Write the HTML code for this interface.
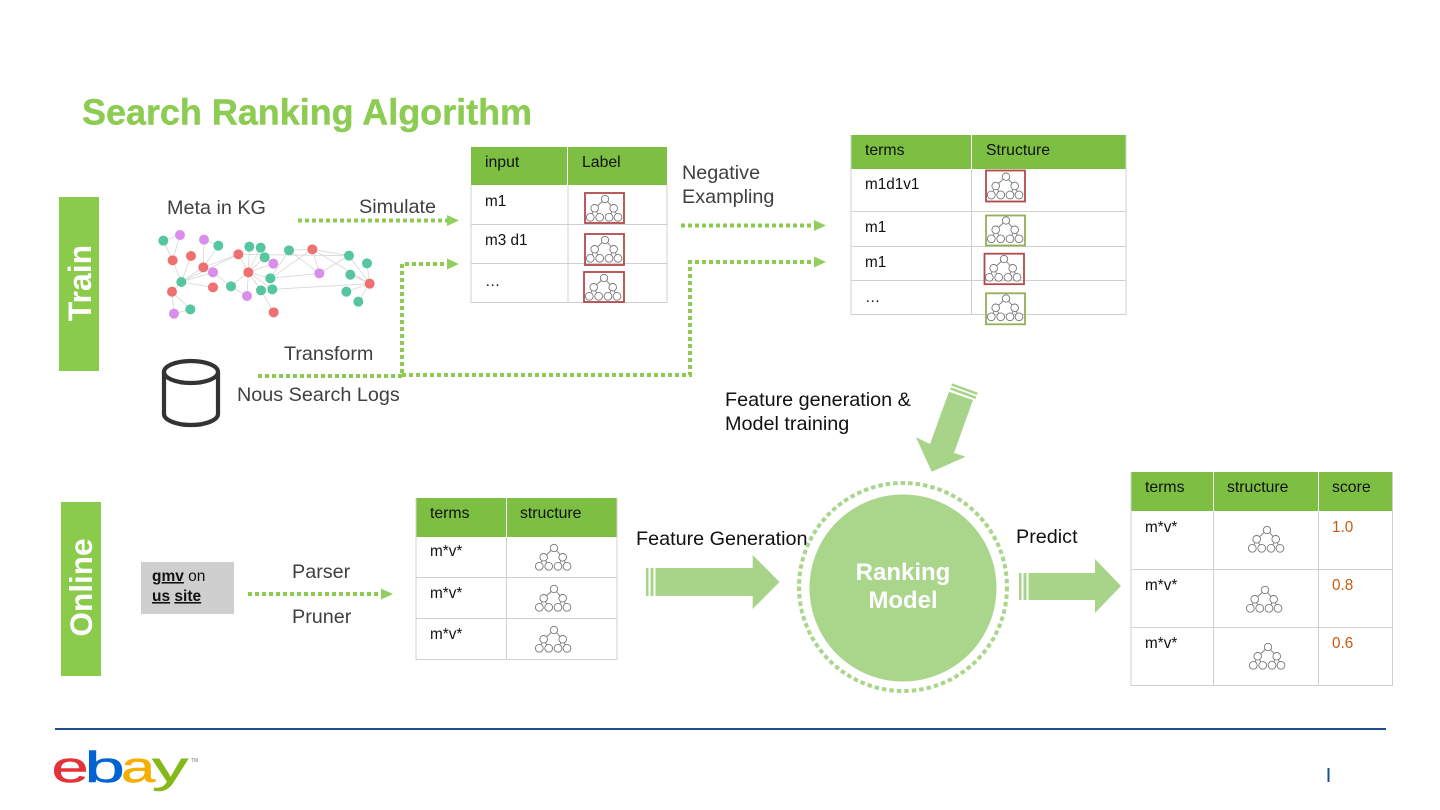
<!DOCTYPE html>
<html>
<head>
<meta charset="utf-8">
<style>
html,body{margin:0;padding:0;background:#fff;width:1440px;height:810px;overflow:hidden}
svg{display:block;font-family:"Liberation Sans",sans-serif}
.l{font-size:19.8px;fill:#404040}
.t{font-size:15.300px;fill:#111}
.h{font-size:15.800px;fill:#111}
.d{fill:none;stroke:#8ccb50;stroke-width:4;stroke-dasharray:4 3}
.g{fill:none;stroke:#d0d0d0;stroke-width:1}
.hd{fill:#7cbf42}
.r{fill:none;stroke:#b04a4a;stroke-width:1.8}
.n{fill:none;stroke:#93ae5a;stroke-width:1.8}
.e line{stroke:#d8d8d8;stroke-width:2.5}
</style>
</head>
<body>
<svg width="1440" height="810" viewBox="0 0 1440 810" xmlns="http://www.w3.org/2000/svg">
<defs>
<g id="tree" fill="#fff" stroke="#777" stroke-width="0.9">
<path d="M0 0L-10.3 9.3M0 0L8.7 9.3M-10.3 9.3L-14.7 18.3M-10.3 9.3L-5.3 18.3M8.7 9.3L4 18.3M8.7 9.3L13 18.3" fill="none"/>
<circle cx="0" cy="0" r="3.7"/>
<circle cx="-10.3" cy="9.3" r="3.8"/>
<circle cx="8.7" cy="9.3" r="3.8"/>
<circle cx="-14.7" cy="18.3" r="3.9"/>
<circle cx="-5.3" cy="18.3" r="3.9"/>
<circle cx="4" cy="18.3" r="3.9"/>
<circle cx="13" cy="18.3" r="3.9"/>
</g>
</defs>

<text x="82" y="124.500" font-size="36" font-weight="bold" fill="#8ccc52" stroke="#8ccc52" stroke-width="0.4" textLength="450" lengthAdjust="spacingAndGlyphs">Search Ranking Algorithm</text>

<!-- side labels -->
<rect x="59" y="197" width="40" height="174" fill="#8bcb4c"/>
<text transform="translate(91,283) rotate(-90)" text-anchor="middle" font-size="32" font-weight="bold" fill="#fff">Train</text>
<rect x="61" y="502" width="40" height="174" fill="#8bcb4c"/>
<text transform="translate(92,587.500) rotate(-90)" text-anchor="middle" font-size="31.500" font-weight="bold" fill="#fff">Online</text>

<!-- KG graph -->
<g transform="translate(150,220) scale(.33333)">
<g class="e">
<line x1="40" y1="62" x2="90" y2="45"/><line x1="90" y1="45" x2="68" y2="121"/><line x1="40" y1="62" x2="68" y2="121"/>
<line x1="68" y1="121" x2="94" y2="186"/><line x1="123" y1="108" x2="94" y2="186"/><line x1="162" y1="59" x2="160" y2="142"/>
<line x1="205" y1="77" x2="160" y2="142"/><line x1="162" y1="59" x2="205" y2="77"/><line x1="160" y1="142" x2="94" y2="186"/>
<line x1="189" y1="157" x2="94" y2="186"/><line x1="189" y1="202" x2="94" y2="186"/><line x1="265" y1="103" x2="94" y2="186"/>
<line x1="265" y1="103" x2="160" y2="142"/><line x1="94" y1="186" x2="66" y2="215"/><line x1="66" y1="215" x2="72" y2="281"/>
<line x1="66" y1="215" x2="121" y2="268"/><line x1="72" y1="281" x2="121" y2="268"/><line x1="189" y1="157" x2="243" y2="199"/>
<line x1="243" y1="199" x2="295" y2="157"/><line x1="295" y1="157" x2="298" y2="80"/><line x1="295" y1="157" x2="332" y2="83"/>
<line x1="295" y1="157" x2="344" y2="112"/><line x1="295" y1="157" x2="370" y2="131"/><line x1="295" y1="157" x2="361" y2="175"/>
<line x1="295" y1="157" x2="333" y2="211"/><line x1="295" y1="157" x2="367" y2="208"/><line x1="295" y1="157" x2="291" y2="228"/>
<line x1="243" y1="199" x2="291" y2="228"/><line x1="333" y1="211" x2="371" y2="277"/><line x1="265" y1="103" x2="295" y2="157"/>
<line x1="265" y1="103" x2="597" y2="107"/><line x1="361" y1="175" x2="487" y2="88"/><line x1="417" y1="91" x2="487" y2="88"/>
<line x1="417" y1="91" x2="508" y2="160"/><line x1="487" y1="88" x2="508" y2="160"/><line x1="487" y1="88" x2="597" y2="107"/>
<line x1="361" y1="175" x2="508" y2="160"/><line x1="508" y1="160" x2="597" y2="107"/><line x1="597" y1="107" x2="659" y2="191"/>
<line x1="487" y1="88" x2="659" y2="191"/><line x1="601" y1="164" x2="659" y2="191"/><line x1="651" y1="130" x2="659" y2="191"/>
<line x1="589" y1="215" x2="659" y2="191"/><line x1="625" y1="245" x2="659" y2="191"/><line x1="367" y1="208" x2="659" y2="191"/>
<line x1="344" y1="112" x2="370" y2="131"/><line x1="361" y1="175" x2="417" y2="91"/>
</g>
<g fill="#55c69d">
<circle cx="40" cy="62" r="15"/><circle cx="205" cy="77" r="15"/><circle cx="298" cy="80" r="15"/><circle cx="332" cy="83" r="15"/><circle cx="344" cy="112" r="15"/><circle cx="417" cy="91" r="15"/><circle cx="597" cy="107" r="15"/><circle cx="651" cy="130" r="15"/><circle cx="601" cy="164" r="15"/><circle cx="94" cy="186" r="15"/><circle cx="361" cy="175" r="15"/><circle cx="243" cy="199" r="15"/><circle cx="333" cy="211" r="15"/><circle cx="367" cy="208" r="15"/><circle cx="589" cy="215" r="15"/><circle cx="625" cy="245" r="15"/><circle cx="121" cy="268" r="15"/>
</g>
<g fill="#d88eea">
<circle cx="90" cy="45" r="15"/><circle cx="162" cy="59" r="15"/><circle cx="370" cy="131" r="15"/><circle cx="189" cy="157" r="15"/><circle cx="508" cy="160" r="15"/><circle cx="291" cy="228" r="15"/><circle cx="72" cy="281" r="15"/>
</g>
<g fill="#ef7070">
<circle cx="68" cy="121" r="15"/><circle cx="123" cy="108" r="15"/><circle cx="265" cy="103" r="15"/><circle cx="487" cy="88" r="15"/><circle cx="160" cy="142" r="15"/><circle cx="295" cy="157" r="15"/><circle cx="189" cy="202" r="15"/><circle cx="66" cy="215" r="15"/><circle cx="659" cy="191" r="15"/><circle cx="371" cy="277" r="15"/>
</g>
</g>

<!-- labels -->
<text class="l" x="167" y="214">Meta in KG</text>
<text class="l" x="359" y="213">Simulate</text>
<text class="l" x="682" y="179">Negative</text>
<text class="l" x="682" y="203">Exampling</text>
<text class="l" x="284" y="360">Transform</text>
<text class="l" x="237" y="401">Nous Search Logs</text>
<text class="l" x="725" y="406" style="fill:#111">Feature generation &amp;</text>
<text class="l" x="725" y="430" style="fill:#111">Model training</text>
<text class="l" x="636" y="545" style="fill:#111">Feature Generation</text>
<text class="l" x="1016" y="543" style="fill:#111">Predict</text>
<text class="l" x="292" y="578">Parser</text>
<text class="l" x="292" y="623">Pruner</text>

<!-- dotted connectors -->
<path class="d" d="M298 220.500H447"/><path d="M447 215L459 220.500L447 226Z" fill="#93cf5f"/>
<path class="d" d="M258 376H402V264H447"/><path d="M447 258.500L459 264L447 269.500Z" fill="#93cf5f"/>
<path class="d" d="M402 375H690V262H814"/><path d="M814 256.500L826 262L814 267.500Z" fill="#93cf5f"/>
<path class="d" d="M681 225.500H814"/><path d="M814 220L826 225.500L814 231Z" fill="#93cf5f"/>
<path class="d" d="M248 594H381"/><path d="M381 588.500L393 594L381 599.500Z" fill="#93cf5f"/>

<!-- cylinder -->
<g fill="none" stroke="#333" stroke-width="4.200">
<ellipse cx="191" cy="372" rx="27" ry="11"/>
<path d="M164 372V414C164 420 176 425 191 425C206 425 218 420 218 414V372"/>
</g>

<!-- Table 1 -->
<rect x="471" y="147" width="196" height="38" class="hd"/>
<path class="g" d="M471 185V302.500H667V185M471 224.500H667M471 263.500H667M568 185V302"/>
<path d="M567.500 147V185" stroke="#fff" stroke-width="1"/>
<text class="h" x="485" y="167">input</text><text class="h" x="582" y="167">Label</text>
<text class="t" x="485" y="206">m1</text><text class="t" x="485" y="245">m3 d1</text><text class="t" x="485" y="286">…</text>
<rect x="585" y="193" width="39" height="30" class="r"/><use href="#tree" x="605" y="199"/>
<rect x="585" y="234" width="39" height="31" class="r"/><use href="#tree" x="605" y="240"/>
<rect x="584" y="272" width="40" height="30" class="r"/><use href="#tree" x="604" y="278"/>

<!-- Table 2 -->
<rect x="851" y="135" width="275" height="34" class="hd"/>
<path class="g" d="M851 135V314.500H1126V135M851 211.500H1126M851 246.500H1126M851 280.500H1126M971.500 169V314"/>
<path d="M971.500 135V169" stroke="#fff" stroke-width="1"/>
<text class="h" x="865" y="155">terms</text><text class="h" x="986" y="155">Structure</text>
<text class="t" x="865" y="189">m1d1v1</text><text class="t" x="865" y="232">m1</text><text class="t" x="865" y="267">m1</text><text class="t" x="865" y="302">…</text>
<rect x="986" y="170.500" width="39" height="31" class="r"/><use href="#tree" x="1006" y="176.700"/>
<rect x="986" y="215.500" width="39" height="30" class="n"/><use href="#tree" x="1006" y="220.500"/>
<rect x="984.500" y="253.700" width="39.500" height="30.500" class="r"/><use href="#tree" x="1004" y="259"/>
<rect x="986" y="293.300" width="39" height="31" class="n"/><use href="#tree" x="1006" y="298.500"/>

<!-- Table 3 -->
<rect x="416" y="498" width="201" height="39" class="hd"/>
<path class="g" d="M416 498V659.500H617V498M416 577.500H617M416 618.500H617M506.500 537V659"/>
<path d="M506.500 498V537" stroke="#fff" stroke-width="1"/>
<text class="h" x="430" y="518">terms</text><text class="h" x="520" y="518">structure</text>
<text class="t" x="430" y="556">m*v*</text><text class="t" x="430" y="598">m*v*</text><text class="t" x="430" y="639">m*v*</text>
<use href="#tree" x="554" y="548"/><use href="#tree" x="554" y="589"/><use href="#tree" x="554" y="630"/>

<!-- Table 4 -->
<rect x="1131" y="472" width="261" height="39" class="hd"/>
<path class="g" d="M1131 472V685.500H1392.500V472M1131 569.500H1392M1131 627.500H1392M1213.500 511V685M1318.500 511V685"/>
<path d="M1213.500 472V511M1318.500 472V511" stroke="#fff" stroke-width="1"/>
<text class="h" x="1145" y="492">terms</text><text class="h" x="1227" y="492">structure</text><text class="h" x="1332" y="492">score</text>
<text class="t" x="1145" y="532">m*v*</text><text class="t" x="1145" y="590">m*v*</text><text class="t" x="1145" y="648">m*v*</text>
<text class="t" x="1332" y="532" style="fill:#c55a11">1.0</text><text class="t" x="1332" y="590" style="fill:#c55a11">0.8</text><text class="t" x="1332" y="648" style="fill:#c55a11">0.6</text>
<use href="#tree" x="1267" y="530"/><use href="#tree" x="1265" y="590"/><use href="#tree" x="1268" y="647"/>

<!-- input box -->
<rect x="141" y="562" width="93" height="52" fill="#cfcfcf"/>
<text x="152" y="581" font-size="15.500" fill="#111"><tspan font-weight="bold" text-decoration="underline">gmv</tspan> on</text>
<text x="152" y="601" font-size="15.500" fill="#111" font-weight="bold"><tspan text-decoration="underline">us</tspan> <tspan text-decoration="underline">site</tspan></text>

<!-- big arrows -->
<g fill="#a8d48a">
<path d="M646 568H648.500V596H646ZM650.500 568H653.500V596H650.500ZM655.500 568H752.700V555L779.500 582L752.700 609V596H655.500Z"/>
<path d="M1019 573H1021.500V600H1019ZM1023.500 573H1026.500V600H1023.500ZM1028.500 573H1095V559L1121 586L1095 613V600H1028.500Z"/>
<path d="M949 391.700L973 400L954 453L965.700 456.700L931.700 471.700L916 437.300L930 444Z"/>
</g>
<path d="M951.700 384.500L977.300 393.800M950.700 388.500L976 397.800" stroke="#a8d48a" stroke-width="2.500" fill="none"/>

<!-- Ranking model -->
<circle cx="903" cy="588" r="93.500" fill="#a9d68b"/>
<circle cx="903" cy="587" r="104" fill="none" stroke="#a9d68b" stroke-width="4" stroke-dasharray="4.500 3"/>
<text x="903" y="580" text-anchor="middle" font-size="24" font-weight="bold" fill="#fff">Ranking</text>
<text x="903" y="608" text-anchor="middle" font-size="24" font-weight="bold" fill="#fff">Model</text>

<!-- footer -->
<line x1="55" y1="729" x2="1386" y2="729" stroke="#1f4e8c" stroke-width="2"/>
<g font-size="44" font-family="'Liberation Sans',sans-serif" stroke-width="0.5">
<text transform="translate(51.500,782) scale(1.52,1)" fill="#e53238" stroke="#e53238">e</text>
<text transform="translate(84.500,782) scale(1.65,1)" fill="#0064d2" stroke="#0064d2">b</text>
<text transform="translate(121,782) scale(1.4,1)" fill="#f5af02" stroke="#f5af02">a</text>
<text transform="translate(152,782) scale(1.65,1)" fill="#86b817" stroke="#86b817">y</text>
</g>
<text x="191" y="762" font-size="5" fill="#777">TM</text>
<line x1="1328.500" y1="768" x2="1328.500" y2="782" stroke="#1f4e8c" stroke-width="2"/>
</svg>
</body>
</html>
